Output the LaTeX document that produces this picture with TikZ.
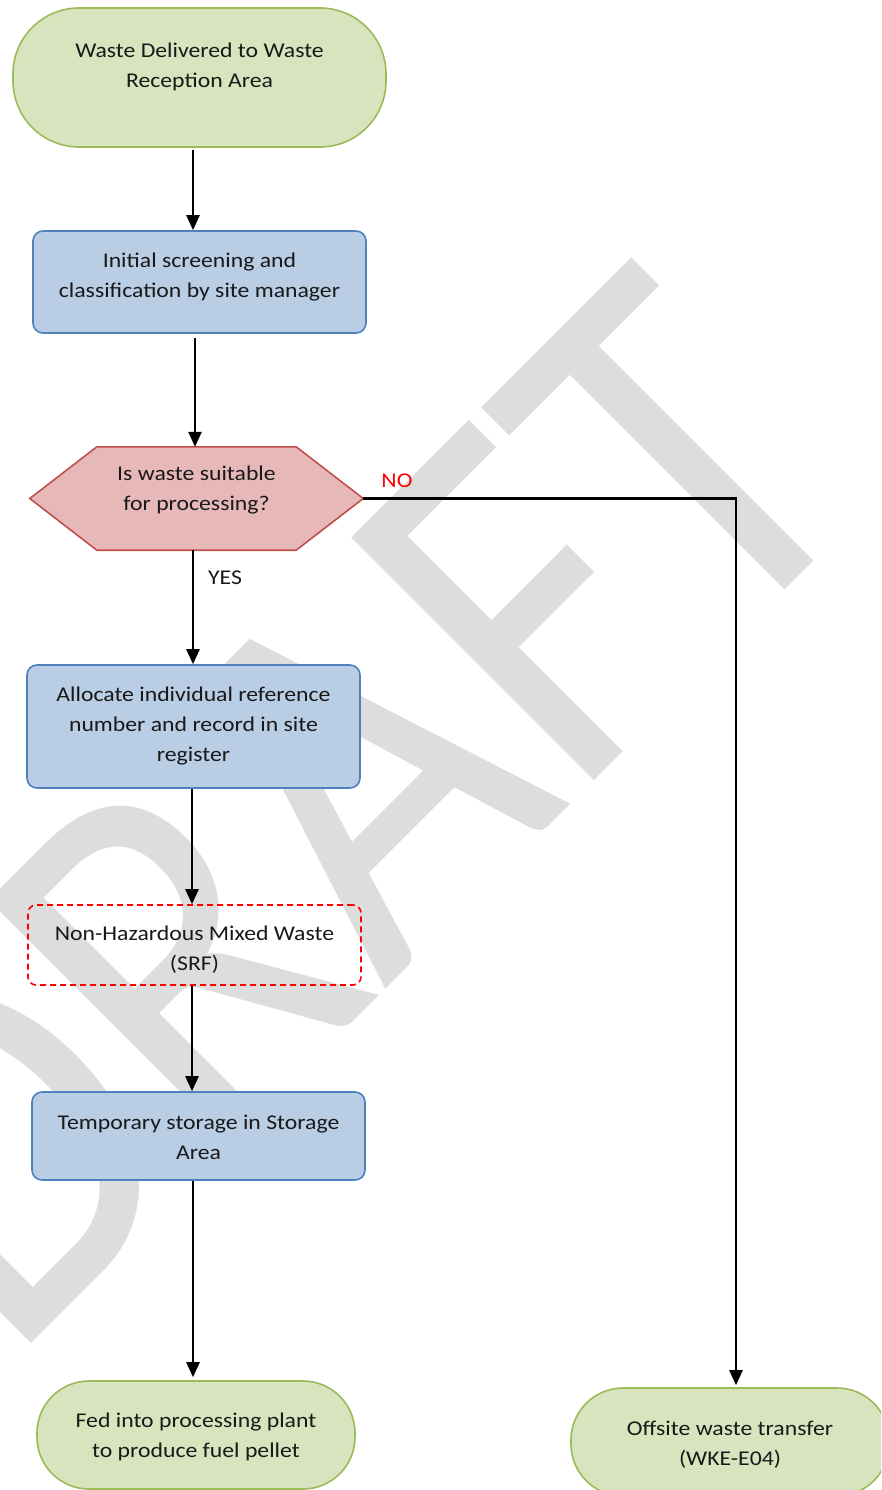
\documentclass[tikz,border=0pt]{standalone}
\usepackage{fontspec}
\setmainfont{Carlito}[FakeStretch=1.13]
\newfontfamily\wmfont{Carlito}
\usetikzlibrary{arrows.meta}
\definecolor{gfill}{RGB}{215,228,189}
\definecolor{gline}{RGB}{155,187,89}
\definecolor{bfill}{RGB}{185,205,229}
\definecolor{bline}{RGB}{79,129,189}
\definecolor{pfill}{RGB}{230,185,184}
\definecolor{pline}{RGB}{192,80,77}
\definecolor{wm}{RGB}{221,221,221}
\definecolor{txtc}{RGB}{25,25,25}
\tikzset{
  term/.style={draw=gline, fill=gfill, line width=1.6pt, inner sep=0pt},
  procbox/.style={draw=bline, fill=bfill, line width=1.6pt, rounded corners=10pt, inner sep=0pt, minimum width=333pt},
  dashbox/.style={draw=red, line width=1.6pt, dash pattern=on 6pt off 4pt, rounded corners=8pt, inner sep=0pt, minimum width=333pt},
  txt/.style={align=center, text=txtc, font=\fontsize{21}{30}\selectfont, inner sep=0pt},
  arr/.style={line width=2.5pt, -{Triangle[width=13pt,length=15pt]}},
  lbl/.style={font=\fontsize{21}{30}\selectfont, inner sep=0pt}
}
\begin{document}
\begin{tikzpicture}[x=1pt,y=1pt]
\useasboundingbox (0,0) rectangle (881,-1490);
\clip (0,0) rectangle (881,-1490);
\fill[white] (0,0) rectangle (881,-1490);
% watermark
\begin{scope}[shift={(9.5,-1365.5)}, rotate=45, xscale=0.856]
  \node[transform shape, anchor=base west, inner sep=0pt, text=wm, font=\wmfont\fontsize{535}{535}\selectfont] (wmark) at (0,0) {DRAFT};
\end{scope}
% shapes
\node[term, rounded corners=66pt, minimum width=373pt, minimum height=139pt] (start) at (199.5,-77.5) {};
\node[txt] (startT) at (199.5,-67) {Waste Delivered to Waste\\Reception Area};

\node[procbox, minimum height=102pt] (box1) at (199.5,-282) {};
\node[txt] (box1T) at (199.5,-277) {Initial screening and\\classification by site manager};

\node[minimum width=333pt, minimum height=103pt, inner sep=0pt] (hex) at (196.5,-498.5) {};
\draw[draw=pline, fill=pfill, line width=1.6pt]
  (hex.west) -- ([xshift=67pt]hex.north west) -- ([xshift=-67pt]hex.north east) -- (hex.east)
  -- ([xshift=-67pt]hex.south east) -- ([xshift=67pt]hex.south west) -- cycle;
\node[txt] (hexT) at (196.5,-490) {Is waste suitable\\for processing?};

\node[procbox, minimum height=123pt] (box2) at (193.5,-726.5) {};
\node[txt] (box2T) at (193.5,-726) {Allocate individual reference\\number and record in site\\register};

\node[dashbox, minimum height=80pt] (dash) at (194.5,-945) {};
\node[txt] (dashT) at (194.5,-949.5) {Non-Hazardous Mixed Waste\\(SRF)};

\node[procbox, minimum height=88pt] (box3) at (198.5,-1136) {};
\node[txt] (box3T) at (198.5,-1137.5) {Temporary storage in Storage\\Area};

\node[term, rounded corners=52pt, minimum width=318pt, minimum height=108pt] (end1) at (196,-1435) {};
\node[txt] (end1T) at (196,-1436.5) {Fed into processing plant\\to produce fuel pellet};

\node[term, rounded corners=52pt, minimum width=318pt, minimum height=108pt] (end2) at (730,-1442) {};
\node[txt] (end2T) at (730,-1444.5) {Offsite waste transfer\\(WKE-E04)};

% connectors
\draw[arr] ([xshift=-6.5pt,yshift=-2pt]start.south) -- ([xshift=-6.5pt]box1.north);
\draw[arr] ([xshift=-4.5pt,yshift=-4pt]box1.south) -- ([xshift=-1.5pt]hex.north);
\draw[arr] ([xshift=-3.5pt]hex.south) -- ([xshift=-0.5pt]box2.north);
\draw[arr] ([xshift=-1.5pt]box2.south) -- ([xshift=-2.5pt]dash.north);
\draw[arr] ([xshift=-2.5pt]dash.south) -- ([xshift=-6.5pt]box3.north);
\draw[arr] ([xshift=-5.5pt]box3.south) -- ([xshift=-3pt,yshift=3pt]end1.north);
\draw[arr] (hex.east) -| ([xshift=6pt,yshift=2pt]end2.north);

% labels
\node[lbl, text=red] (nolbl) at (397,-481) {NO};
\node[lbl, text=txtc] (yeslbl) at (225,-578) {YES};
\end{tikzpicture}
\end{document}
